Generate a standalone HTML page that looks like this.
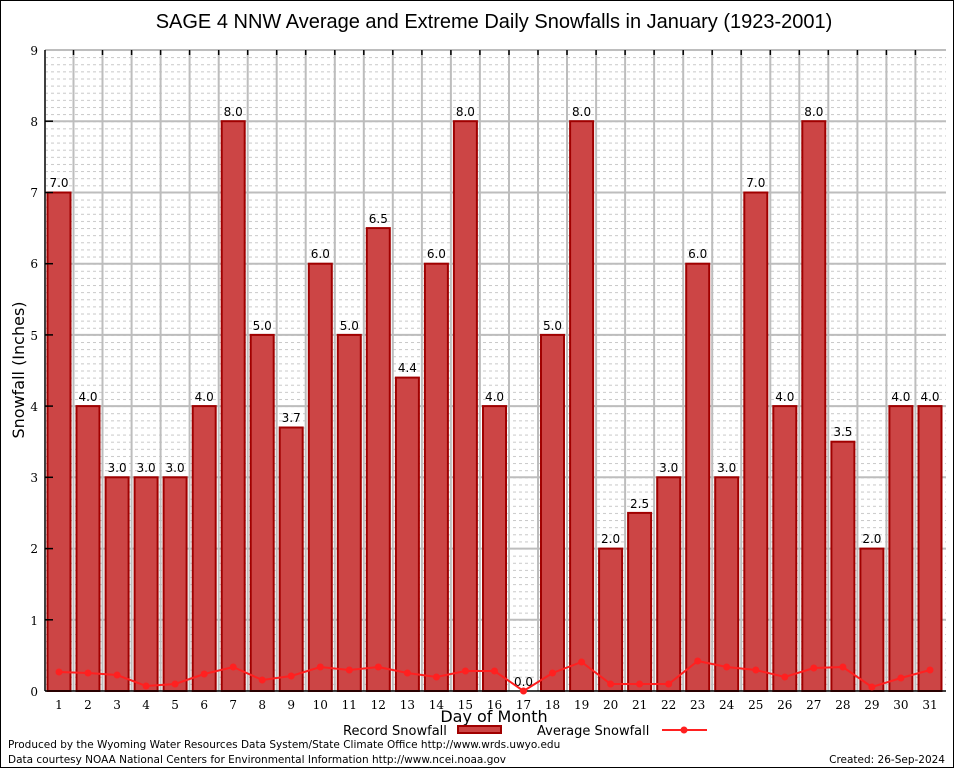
<!DOCTYPE html>
<html><head><meta charset="utf-8"><style>
html,body{margin:0;padding:0;background:#fff;}
svg{display:block;}
.t{font-family:"DejaVu Serif","Liberation Serif",serif;font-size:12px;fill:#000;}
.v{font-family:"DejaVu Sans","Liberation Sans",sans-serif;font-size:12px;fill:#000;text-anchor:middle;}
.s{font-family:"DejaVu Sans","Liberation Sans",sans-serif;fill:#000;}
</style></head><body>
<svg width="954" height="768" viewBox="0 0 954 768" xmlns="http://www.w3.org/2000/svg">
<defs>
<pattern id="minor" x="45" y="50" width="6" height="7.122" patternUnits="userSpaceOnUse">
<rect x="0" y="0" width="3" height="1" fill="#c8c8c8"/>
</pattern>
</defs>
<rect x="0.5" y="0.5" width="953" height="767" fill="#fff" stroke="#000"/>
<text x="494" y="28" text-anchor="middle" style="font-family:'Liberation Sans',sans-serif;font-size:20px">SAGE 4 NNW Average and Extreme Daily Snowfalls in January (1923-2001)</text>
<rect x="46" y="50" width="900" height="641" fill="url(#minor)"/>
<g stroke="#bdbdbd" stroke-width="2">
<line x1="45" x2="946" y1="50" y2="50"/><line x1="45" x2="946" y1="121.2" y2="121.2"/><line x1="45" x2="946" y1="192.5" y2="192.5"/><line x1="45" x2="946" y1="263.7" y2="263.7"/><line x1="45" x2="946" y1="334.9" y2="334.9"/><line x1="45" x2="946" y1="406.1" y2="406.1"/><line x1="45" x2="946" y1="477.3" y2="477.3"/><line x1="45" x2="946" y1="548.6" y2="548.6"/><line x1="45" x2="946" y1="619.8" y2="619.8"/>
</g>
<g stroke="#bdbdbd" stroke-width="2">
<line x1="73.5" x2="73.5" y1="50" y2="691"/><line x1="102.5" x2="102.5" y1="50" y2="691"/><line x1="131.6" x2="131.6" y1="50" y2="691"/><line x1="160.6" x2="160.6" y1="50" y2="691"/><line x1="189.6" x2="189.6" y1="50" y2="691"/><line x1="218.7" x2="218.7" y1="50" y2="691"/><line x1="247.7" x2="247.7" y1="50" y2="691"/><line x1="276.7" x2="276.7" y1="50" y2="691"/><line x1="305.7" x2="305.7" y1="50" y2="691"/><line x1="334.8" x2="334.8" y1="50" y2="691"/><line x1="363.8" x2="363.8" y1="50" y2="691"/><line x1="392.8" x2="392.8" y1="50" y2="691"/><line x1="421.9" x2="421.9" y1="50" y2="691"/><line x1="450.9" x2="450.9" y1="50" y2="691"/><line x1="479.9" x2="479.9" y1="50" y2="691"/><line x1="509.0" x2="509.0" y1="50" y2="691"/><line x1="538.0" x2="538.0" y1="50" y2="691"/><line x1="567.0" x2="567.0" y1="50" y2="691"/><line x1="596.1" x2="596.1" y1="50" y2="691"/><line x1="625.1" x2="625.1" y1="50" y2="691"/><line x1="654.1" x2="654.1" y1="50" y2="691"/><line x1="683.2" x2="683.2" y1="50" y2="691"/><line x1="712.2" x2="712.2" y1="50" y2="691"/><line x1="741.2" x2="741.2" y1="50" y2="691"/><line x1="770.3" x2="770.3" y1="50" y2="691"/><line x1="799.3" x2="799.3" y1="50" y2="691"/><line x1="828.3" x2="828.3" y1="50" y2="691"/><line x1="857.4" x2="857.4" y1="50" y2="691"/><line x1="886.4" x2="886.4" y1="50" y2="691"/><line x1="915.4" x2="915.4" y1="50" y2="691"/>
</g>
<g fill="#cc4545" stroke="#a00000" stroke-width="2">
<rect x="47.5" y="192.5" width="23" height="498.5"/>
<rect x="76.5" y="406.1" width="23" height="284.9"/>
<rect x="105.6" y="477.3" width="23" height="213.7"/>
<rect x="134.6" y="477.3" width="23" height="213.7"/>
<rect x="163.6" y="477.3" width="23" height="213.7"/>
<rect x="192.7" y="406.1" width="23" height="284.9"/>
<rect x="221.7" y="121.2" width="23" height="569.8"/>
<rect x="250.7" y="334.9" width="23" height="356.1"/>
<rect x="279.7" y="427.5" width="23" height="263.5"/>
<rect x="308.8" y="263.7" width="23" height="427.3"/>
<rect x="337.8" y="334.9" width="23" height="356.1"/>
<rect x="366.8" y="228.1" width="23" height="462.9"/>
<rect x="395.9" y="377.6" width="23" height="313.4"/>
<rect x="424.9" y="263.7" width="23" height="427.3"/>
<rect x="453.9" y="121.2" width="23" height="569.8"/>
<rect x="483.0" y="406.1" width="23" height="284.9"/>
<rect x="541.0" y="334.9" width="23" height="356.1"/>
<rect x="570.1" y="121.2" width="23" height="569.8"/>
<rect x="599.1" y="548.6" width="23" height="142.4"/>
<rect x="628.1" y="512.9" width="23" height="178.1"/>
<rect x="657.2" y="477.3" width="23" height="213.7"/>
<rect x="686.2" y="263.7" width="23" height="427.3"/>
<rect x="715.2" y="477.3" width="23" height="213.7"/>
<rect x="744.3" y="192.5" width="23" height="498.5"/>
<rect x="773.3" y="406.1" width="23" height="284.9"/>
<rect x="802.3" y="121.2" width="23" height="569.8"/>
<rect x="831.4" y="441.7" width="23" height="249.3"/>
<rect x="860.4" y="548.6" width="23" height="142.4"/>
<rect x="889.4" y="406.1" width="23" height="284.9"/>
<rect x="918.5" y="406.1" width="23" height="284.9"/>
</g>
<g class="v">
<text x="59" y="187">7.0</text><text x="88" y="401">4.0</text><text x="117.1" y="472">3.0</text><text x="146.1" y="472">3.0</text><text x="175.1" y="472">3.0</text><text x="204.2" y="401">4.0</text><text x="233.2" y="116">8.0</text><text x="262.2" y="330">5.0</text><text x="291.2" y="422">3.7</text><text x="320.3" y="258">6.0</text><text x="349.3" y="330">5.0</text><text x="378.3" y="223">6.5</text><text x="407.4" y="372">4.4</text><text x="436.4" y="258">6.0</text><text x="465.4" y="116">8.0</text><text x="494.5" y="401">4.0</text><text x="523.5" y="686">0.0</text><text x="552.5" y="330">5.0</text><text x="581.6" y="116">8.0</text><text x="610.6" y="543">2.0</text><text x="639.6" y="508">2.5</text><text x="668.7" y="472">3.0</text><text x="697.7" y="258">6.0</text><text x="726.7" y="472">3.0</text><text x="755.8" y="187">7.0</text><text x="784.8" y="401">4.0</text><text x="813.8" y="116">8.0</text><text x="842.9" y="436">3.5</text><text x="871.9" y="543">2.0</text><text x="900.9" y="401">4.0</text><text x="930" y="401">4.0</text>
</g>
<line x1="45" y1="50" x2="45" y2="691" stroke="#000" stroke-width="1.5"/>
<line x1="45" y1="691" x2="946" y2="691" stroke="#000" stroke-width="1.5"/>
<g stroke="#000" stroke-width="1.5">
<line x1="45" x2="53" y1="121.2" y2="121.2"/><line x1="45" x2="53" y1="192.5" y2="192.5"/><line x1="45" x2="53" y1="263.7" y2="263.7"/><line x1="45" x2="53" y1="334.9" y2="334.9"/><line x1="45" x2="53" y1="406.1" y2="406.1"/><line x1="45" x2="53" y1="477.3" y2="477.3"/><line x1="45" x2="53" y1="548.6" y2="548.6"/><line x1="45" x2="53" y1="619.8" y2="619.8"/>
</g>
<g stroke="#000" stroke-width="1.5">
<line x1="73.5" x2="73.5" y1="50" y2="55"/><line x1="102.5" x2="102.5" y1="50" y2="55"/><line x1="131.6" x2="131.6" y1="50" y2="55"/><line x1="160.6" x2="160.6" y1="50" y2="55"/><line x1="189.6" x2="189.6" y1="50" y2="55"/><line x1="218.7" x2="218.7" y1="50" y2="55"/><line x1="247.7" x2="247.7" y1="50" y2="55"/><line x1="276.7" x2="276.7" y1="50" y2="55"/><line x1="305.7" x2="305.7" y1="50" y2="55"/><line x1="334.8" x2="334.8" y1="50" y2="55"/><line x1="363.8" x2="363.8" y1="50" y2="55"/><line x1="392.8" x2="392.8" y1="50" y2="55"/><line x1="421.9" x2="421.9" y1="50" y2="55"/><line x1="450.9" x2="450.9" y1="50" y2="55"/><line x1="479.9" x2="479.9" y1="50" y2="55"/><line x1="509" x2="509" y1="50" y2="55"/><line x1="538" x2="538" y1="50" y2="55"/><line x1="567" x2="567" y1="50" y2="55"/><line x1="596.1" x2="596.1" y1="50" y2="55"/><line x1="625.1" x2="625.1" y1="50" y2="55"/><line x1="654.1" x2="654.1" y1="50" y2="55"/><line x1="683.2" x2="683.2" y1="50" y2="55"/><line x1="712.2" x2="712.2" y1="50" y2="55"/><line x1="741.2" x2="741.2" y1="50" y2="55"/><line x1="770.3" x2="770.3" y1="50" y2="55"/><line x1="799.3" x2="799.3" y1="50" y2="55"/><line x1="828.3" x2="828.3" y1="50" y2="55"/><line x1="857.4" x2="857.4" y1="50" y2="55"/><line x1="886.4" x2="886.4" y1="50" y2="55"/><line x1="915.4" x2="915.4" y1="50" y2="55"/>
</g>
<polyline fill="none" stroke="#ff2020" stroke-width="2" points="59,672 88,673 117.1,675 146.1,686 175.1,684 204.2,674 233.2,667 262.2,680 291.2,676 320.3,667 349.3,670 378.3,667 407.4,673 436.4,677 465.4,671 494.5,671 523.5,691 552.5,673 581.6,662 610.6,684 639.6,684 668.7,684 697.7,661 726.7,667 755.8,670 784.8,677 813.8,668 842.9,667 871.9,687 900.9,678 930,670"/>
<g fill="#ff2020">
<circle cx="59" cy="672" r="3.5"/><circle cx="88" cy="673" r="3.5"/><circle cx="117.1" cy="675" r="3.5"/><circle cx="146.1" cy="686" r="3.5"/><circle cx="175.1" cy="684" r="3.5"/><circle cx="204.2" cy="674" r="3.5"/><circle cx="233.2" cy="667" r="3.5"/><circle cx="262.2" cy="680" r="3.5"/><circle cx="291.2" cy="676" r="3.5"/><circle cx="320.3" cy="667" r="3.5"/><circle cx="349.3" cy="670" r="3.5"/><circle cx="378.3" cy="667" r="3.5"/><circle cx="407.4" cy="673" r="3.5"/><circle cx="436.4" cy="677" r="3.5"/><circle cx="465.4" cy="671" r="3.5"/><circle cx="494.5" cy="671" r="3.5"/><circle cx="523.5" cy="691" r="3.5"/><circle cx="552.5" cy="673" r="3.5"/><circle cx="581.6" cy="662" r="3.5"/><circle cx="610.6" cy="684" r="3.5"/><circle cx="639.6" cy="684" r="3.5"/><circle cx="668.7" cy="684" r="3.5"/><circle cx="697.7" cy="661" r="3.5"/><circle cx="726.7" cy="667" r="3.5"/><circle cx="755.8" cy="670" r="3.5"/><circle cx="784.8" cy="677" r="3.5"/><circle cx="813.8" cy="668" r="3.5"/><circle cx="842.9" cy="667" r="3.5"/><circle cx="871.9" cy="687" r="3.5"/><circle cx="900.9" cy="678" r="3.5"/><circle cx="930" cy="670" r="3.5"/>
</g>
<g class="t" text-anchor="end">
<text x="38" y="55">9</text><text x="38" y="126">8</text><text x="38" y="197">7</text><text x="38" y="268">6</text><text x="38" y="340">5</text><text x="38" y="411">4</text><text x="38" y="482">3</text><text x="38" y="553">2</text><text x="38" y="625">1</text><text x="38" y="696">0</text>
</g>
<g class="t" text-anchor="middle">
<text x="59" y="709">1</text><text x="88" y="709">2</text><text x="117.1" y="709">3</text><text x="146.1" y="709">4</text><text x="175.1" y="709">5</text><text x="204.2" y="709">6</text><text x="233.2" y="709">7</text><text x="262.2" y="709">8</text><text x="291.2" y="709">9</text><text x="320.3" y="709">10</text><text x="349.3" y="709">11</text><text x="378.3" y="709">12</text><text x="407.4" y="709">13</text><text x="436.4" y="709">14</text><text x="465.4" y="709">15</text><text x="494.5" y="709">16</text><text x="523.5" y="709">17</text><text x="552.5" y="709">18</text><text x="581.6" y="709">19</text><text x="610.6" y="709">20</text><text x="639.6" y="709">21</text><text x="668.7" y="709">22</text><text x="697.7" y="709">23</text><text x="726.7" y="709">24</text><text x="755.8" y="709">25</text><text x="784.8" y="709">26</text><text x="813.8" y="709">27</text><text x="842.9" y="709">28</text><text x="871.9" y="709">29</text><text x="900.9" y="709">30</text><text x="930" y="709">31</text>
</g>
<text class="s" x="494" y="722" text-anchor="middle" font-size="16">Day of Month</text>
<text class="s" transform="translate(24,370) rotate(-90)" text-anchor="middle" font-size="16">Snowfall (Inches)</text>
<text class="s" x="343" y="735" font-size="13">Record Snowfall</text>
<rect x="458" y="726" width="43" height="7" fill="#cc4545" stroke="#a00000" stroke-width="2"/>
<text class="s" x="537" y="735" font-size="13">Average Snowfall</text>
<line x1="662" y1="730" x2="707" y2="730" stroke="#ff2020" stroke-width="2"/>
<circle cx="684" cy="730" r="3.5" fill="#ff2020"/>
<text class="s" x="8" y="748" font-size="10.5">Produced by the Wyoming Water Resources Data System/State Climate Office http://www.wrds.uwyo.edu</text>
<text class="s" x="8" y="763" font-size="10.5">Data courtesy NOAA National Centers for Environmental Information http://www.ncei.noaa.gov</text>
<text class="s" x="945" y="763" font-size="10.5" text-anchor="end">Created:  26-Sep-2024</text>
</svg>
</body></html>
